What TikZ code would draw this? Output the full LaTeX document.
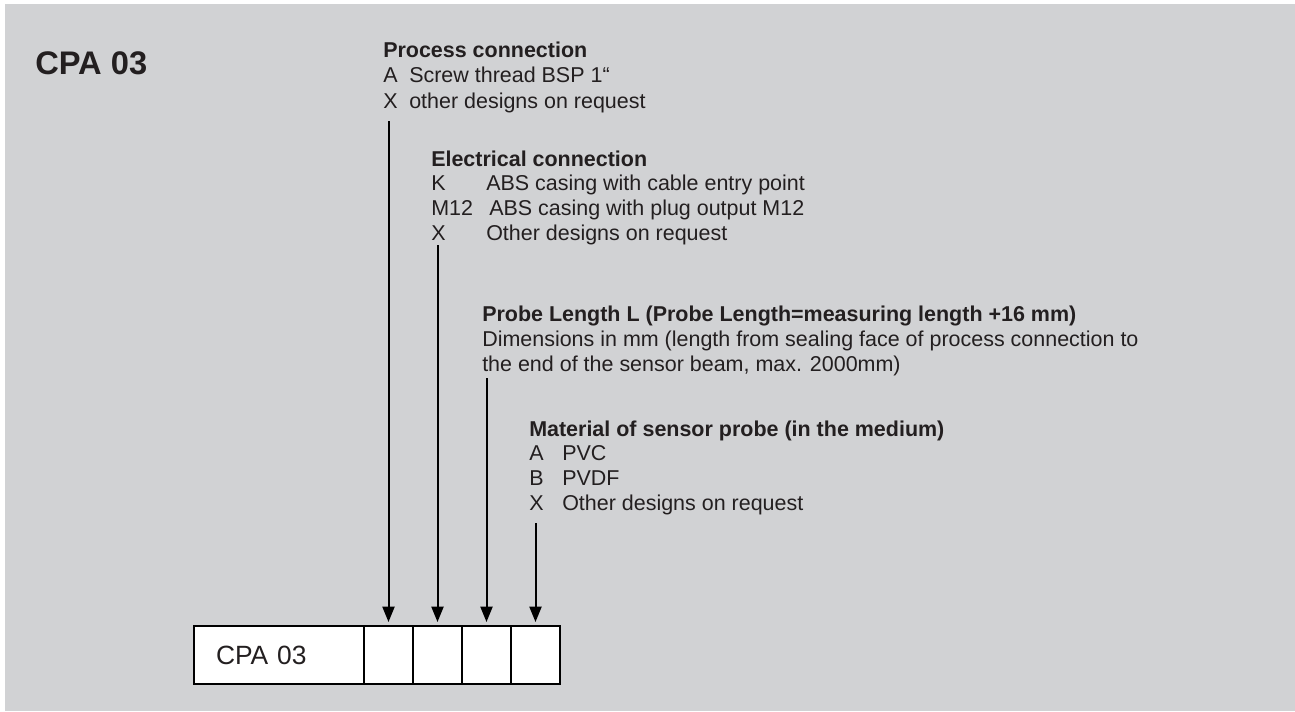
\documentclass[tikz,border=0pt]{standalone}
\usepackage{fontspec}
\setmainfont{Liberation Sans}
\usetikzlibrary{positioning,arrows.meta}
\definecolor{panelgray}{RGB}{209,210,212}
\definecolor{inkblack}{RGB}{35,31,32}

\begin{document}
\begin{tikzpicture}[x=0.75pt, y=-0.75pt, >={Triangle[length=11.5pt, width=9pt]}]
    \tikzstyle{optionblock} = [anchor=base west, inner sep=0pt, align=left, text=inkblack, font=\fontsize{16.1}{18.4}\selectfont]
    \tikzstyle{titlelabel} = [anchor=base west, inner sep=0pt, text=inkblack, font=\bfseries\fontsize{24.5}{29}\selectfont]
    \tikzstyle{namecell} = [rectangle, draw=black, fill=white, line width=1.6pt, outer sep=0pt, minimum height=43.5pt, text width=94.5pt, inner xsep=16.5pt, align=left, text=inkblack, font=\fontsize{19.8}{22}\selectfont]
    \tikzstyle{codecell} = [rectangle, draw=black, fill=white, line width=1.1pt, outer sep=0pt, minimum width=36.75pt, minimum height=43.5pt]
    \tikzstyle{pointer} = [->, draw=black, line width=1.5pt, shorten >=3pt]

    % Panel
    \useasboundingbox (0,0) rectangle (1295,711);
    \fill [panelgray] (5,4) rectangle (1295,711);

    % Title
    \node [titlelabel] (title) at (35,74) {CPA 03};

    % Option blocks (placed at the baseline of their last line)
    \node [optionblock, font=\fontsize{16.1}{19.1}\selectfont] (process) at (383,108) {\textbf{Process connection}\\
        \makebox[19.5pt][l]{A}Screw thread BSP 1“\\
        \makebox[19.5pt][l]{X}other designs on request};
    \node [optionblock] (electrical) at (431,240) {\textbf{Electrical connection}\\
        \makebox[41.25pt][l]{K}ABS casing with cable entry point\\
        \makebox[43.5pt][l]{M12}ABS casing with plug output M12\\
        \makebox[41.25pt][l]{X}Other designs on request};
    \node [optionblock] (probe) at (482,371) {\textbf{Probe Length L (Probe Length=measuring length +16 mm)}\\
        Dimensions in mm (length from sealing face of process connection to\\
        the end of the sensor beam, max. 2000mm)};
    \node [optionblock] (material) at (529,510) {\textbf{Material of sensor probe (in the medium)}\\
        \makebox[24.75pt][l]{A}PVC\\
        \makebox[24.75pt][l]{B}PVDF\\
        \makebox[24.75pt][l]{X}Other designs on request};

    % Order code
    \node [namecell] (cpa) at (279,655) {CPA 03};
    \node [codecell, right=0pt of cpa] (cell1) {};
    \node [codecell, right=0pt of cell1] (cell2) {};
    \node [codecell, right=0pt of cell2] (cell3) {};
    \node [codecell, right=0pt of cell3] (cell4) {};

    % Connections
    \coordinate (process-foot) at (388.5,121);
    \coordinate (electrical-foot) at (437.5,245);
    \coordinate (probe-foot) at (486.5,378);
    \coordinate (material-foot) at (535.5,523);
    \draw [pointer] (process-foot) -- (process-foot |- cell1.north);
    \draw [pointer] (electrical-foot) -- (electrical-foot |- cell2.north);
    \draw [pointer] (probe-foot) -- (probe-foot |- cell3.north);
    \draw [pointer] (material-foot) -- (material-foot |- cell4.north);
\end{tikzpicture}
\end{document}
